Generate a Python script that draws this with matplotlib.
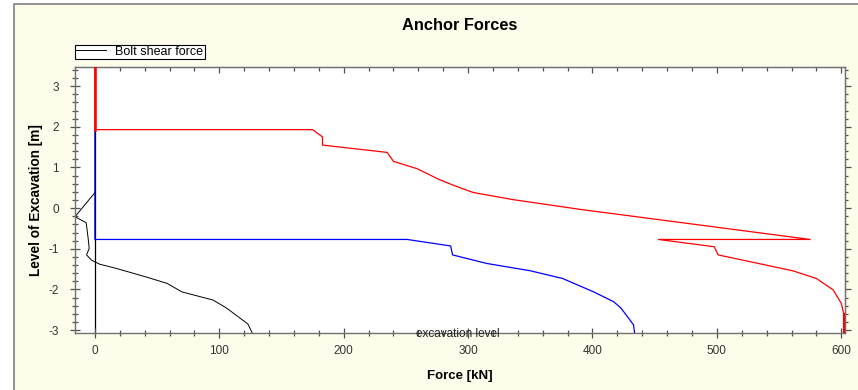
import matplotlib
matplotlib.use("Agg")
from matplotlib import pyplot as plt
from matplotlib.ticker import MultipleLocator, NullFormatter
from matplotlib.patches import Rectangle

plt.rcParams['font.family'] = ['Liberation Sans', 'DejaVu Sans']
plt.rcParams['axes.unicode_minus'] = False

# red anchor force curve
red_force = [0, 0, 175, 183, 183, 235, 240, 259, 277, 288, 304, 336, 390, 575,
             453, 498, 501, 561, 580, 593.5, 600, 602, 602]
red_level = [3.5, 1.93, 1.93, 1.75, 1.55, 1.37, 1.15, 0.97, 0.70, 0.565, 0.385,
             0.21, -0.03, -0.77, -0.77, -0.95, -1.15, -1.54, -1.73, -2.01,
             -2.34, -2.6, -3.1]

# blue anchor force curve
blue_force = [0, 0, 251, 286, 287.5, 315, 350, 376, 401, 417, 423, 433, 434]
blue_level = [1.93, -0.77, -0.77, -0.93, -1.15, -1.36, -1.54, -1.73, -2.06,
              -2.30, -2.46, -2.87, -3.1]

# bolt shear force
bolt_force = [0, -16, -7, -5.4, -4.6, -6.7, -2.7, 4, 17, 42, 58, 70, 95, 106,
              123, 127]
bolt_level = [0.38, -0.21, -0.36, -0.75, -0.99, -1.15, -1.28, -1.38, -1.48,
              -1.70, -1.85, -2.06, -2.26, -2.46, -2.85, -3.1]

fig = plt.figure(figsize=(8.58, 3.9), dpi=100, facecolor='white')
# cream panel with grey frame
panel = Rectangle((14 / 858, -0.1), 1.0, 1.0 + 0.1 - 4 / 390,
                  transform=fig.transFigure, facecolor='#fefdec',
                  edgecolor='#808080', linewidth=1.2, zorder=-10)
fig.add_artist(panel)

ax = fig.add_axes([75 / 858, (390 - 333) / 390, 770 / 858, 266 / 390])
ax.set_zorder(5)
ax.set_facecolor('white')

ax.axvline(0, color='black', linewidth=0.9, zorder=1)
ax.plot(bolt_force, bolt_level, color='black', linewidth=0.7,
        label='Bolt shear force', zorder=2)
ax.plot(blue_force, blue_level, color='#0000ff', linewidth=0.9, zorder=3)
ax.plot(red_force, red_level, color='#ff0000', linewidth=0.9, zorder=4)
ax.plot([0, 0], [1.93, 3.5], color='#ff0000', linewidth=1.8, zorder=4)
ax.plot([602, 602], [-2.6, -3.1], color='#ff0000', linewidth=1.6, zorder=4)

ax.set_xlim(-16, 603)
ax.set_ylim(-3.07, 3.47)

ax.xaxis.set_major_locator(MultipleLocator(100))
ax.xaxis.set_minor_locator(MultipleLocator(20))
ax.yaxis.set_major_locator(MultipleLocator(1))
ax.yaxis.set_minor_locator(MultipleLocator(0.2))

for s in ax.spines.values():
    s.set_color('#707070')
    s.set_linewidth(1.0)

ax.tick_params(which='both', direction='inout', colors='#505050',
               labelcolor='#333333', labelsize=8.5, width=0.9,
               top=False, right=False)
ax.tick_params(which='major', length=7)
ax.tick_params(which='minor', length=4)
ax.tick_params(axis='x', pad=5)
ax.tick_params(axis='y', pad=8)

# top ticks point inward, right ticks point outward
top = ax.secondary_xaxis('top')
top.xaxis.set_major_locator(MultipleLocator(100))
top.xaxis.set_minor_locator(MultipleLocator(20))
top.xaxis.set_major_formatter(NullFormatter())
top.tick_params(which='both', direction='in', colors='#505050', width=0.9)
top.tick_params(which='major', length=4)
top.tick_params(which='minor', length=3)
top.spines['top'].set_color('#707070')

right = ax.secondary_yaxis('right')
right.yaxis.set_major_locator(MultipleLocator(1))
right.yaxis.set_minor_locator(MultipleLocator(0.2))
right.yaxis.set_major_formatter(NullFormatter())
right.tick_params(which='both', direction='out', colors='#505050', width=0.9)
right.tick_params(which='major', length=4)
right.tick_params(which='minor', length=2.5)
right.spines['right'].set_color('#707070')

ax.set_xlabel('Force [kN]', fontsize=9.5, fontweight='bold', labelpad=9.5)
ax.set_ylabel('Level of Excavation [m]', fontsize=9.8, fontweight='bold',
              labelpad=4)
ax.set_title('Anchor Forces', fontsize=11.8, fontweight='bold', pad=27)

ax.text(292, -3.1, 'excavation level', fontsize=8.5, ha='center', va='center',
        color='#222222', zorder=5)

leg = ax.legend(loc='lower left', bbox_to_anchor=(0, 1.03), borderaxespad=0,
                fontsize=9, fancybox=False, framealpha=1, edgecolor='black',
                borderpad=0.1, handlelength=2.4, handletextpad=0.72)
leg.get_frame().set_linewidth(0.8)

fig.savefig('out.png', dpi=100, facecolor=fig.get_facecolor())
